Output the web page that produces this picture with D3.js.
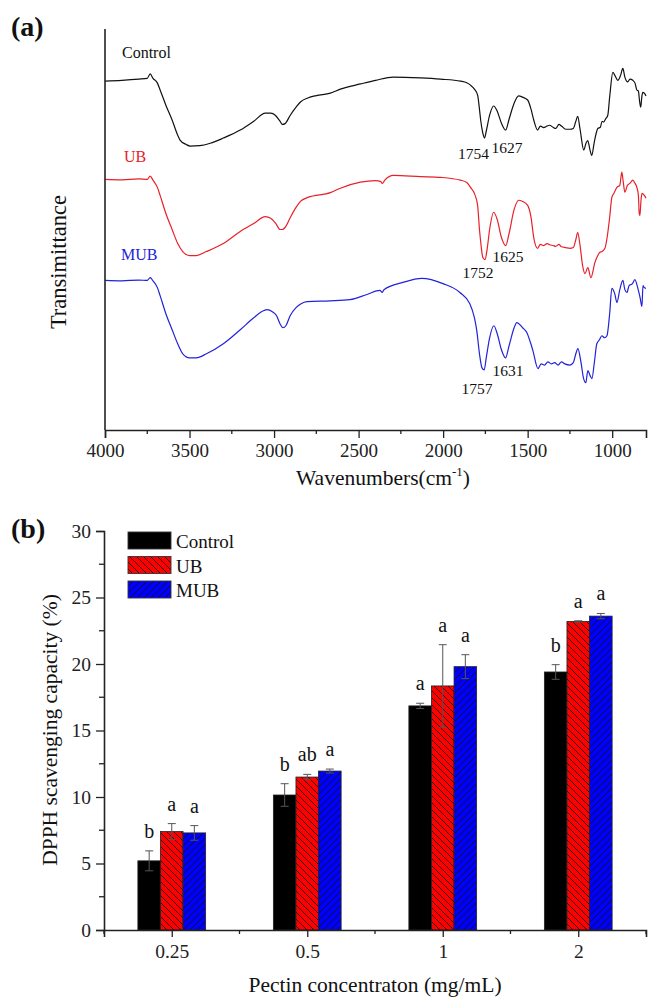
<!DOCTYPE html>
<html><head><meta charset="utf-8">
<script src="https://cdn.jsdelivr.net/npm/d3@7"></script>
<style>
html,body{margin:0;padding:0;background:#fff;}
svg{display:block;font-family:"Liberation Serif","Times New Roman",serif;}
</style></head>
<body>
<svg id="chart" width="648" height="998"></svg>
<script>
// ---------- Panel (a): FTIR spectra [wavenumber, transmittance a.u.] ----------
const controlSpectrum = [[4000,87],[3900,87.2],[3800,87.5],[3750,87.7],[3733,88.8],[3716,87.7],[3690,86.5],[3674,84.8],[3640,81],[3603,77.3],[3570,73.5],[3556,72.3],[3520,71.2],[3496,70.8],[3440,70.9],[3378,71.5],[3300,72.8],[3200,74.8],[3120,77],[3052,79],[3020,79],[2993,78.5],[2965,77],[2951,76.2],[2935,76.4],[2904,78.5],[2870,80.5],[2844,81.8],[2800,82.8],[2750,83.4],[2667,84],[2608,85],[2489,86.3],[2400,87.2],[2294,88],[2134,87.8],[2015,87.5],[1897,87],[1860,86.6],[1838,86],[1815,85],[1796,83.5],[1785,80],[1778,77.3],[1765,74],[1755,72.8],[1745,74.5],[1725,78.5],[1701,80.8],[1680,79.5],[1655,76.5],[1630,74.8],[1610,77.5],[1580,81.5],[1553,83.3],[1530,83],[1500,82.3],[1480,80],[1464,77.3],[1441,74.8],[1425,75.8],[1405,75.4],[1385,75.8],[1370,76],[1350,75.5],[1334,75.2],[1315,76.2],[1300,75.8],[1275,75],[1250,75],[1230,75.2],[1215,77],[1204,78.2],[1190,75],[1168,69.8],[1155,71.5],[1145,72.2],[1132,70],[1121,68.5],[1105,72],[1085,75.2],[1070,75.5],[1060,77],[1050,76.8],[1040,77.5],[1026,78.5],[1015,83],[996,89.2],[985,88.5],[967,87.2],[950,88.5],[937,90.2],[925,88],[908,86.8],[895,87.5],[878,87.2],[865,86.5],[854,84.8],[845,84.5],[838,82],[831,80.5],[825,83],[819,84.2],[810,84],[800,83.3]];
const ubSpectrum = [[4000,62.5],[3900,62.4],[3800,62.6],[3750,62.5],[3733,63.3],[3716,62.3],[3690,60.5],[3674,58.5],[3640,54],[3603,50],[3570,46.5],[3540,44.5],[3500,43.5],[3460,43.5],[3400,44.5],[3300,46.5],[3200,49.5],[3120,51.5],[3052,53.2],[3020,52.8],[2990,51.5],[2965,50],[2951,50],[2935,50.5],[2904,53],[2870,55.5],[2844,57],[2800,58],[2667,59.2],[2608,60.3],[2489,61.8],[2400,62.2],[2370,62],[2360,61.5],[2345,62.3],[2294,63.5],[2134,63.2],[2015,63],[1897,62.3],[1860,61.7],[1838,60.5],[1815,59],[1796,56],[1785,50],[1778,47],[1765,43],[1752,42.5],[1740,45],[1725,50],[1701,54.3],[1680,52.5],[1655,48],[1630,46],[1610,49],[1580,55],[1553,57.3],[1530,57],[1500,56],[1480,53],[1464,48],[1441,45.3],[1425,46.3],[1405,46],[1385,46.5],[1370,46.2],[1350,46],[1334,45.8],[1315,46.3],[1300,45.7],[1275,45.5],[1250,45.3],[1230,45.5],[1215,47.5],[1204,49.2],[1190,46],[1175,41],[1161,39],[1144,40.5],[1126,38],[1102,41.8],[1085,43.5],[1073,44.3],[1060,44.5],[1043,45.3],[1030,48],[1015,53],[1002,58],[990,59],[972,60.5],[955,61],[943,64.3],[935,62],[925,59.3],[910,61],[895,61.5],[878,62.3],[865,61.5],[854,60.5],[845,58.5],[840,54],[836,53.5],[830,57],[824,59],[810,58.5],[800,57.8]];
const mubSpectrum = [[4000,37.3],[3900,37.2],[3800,37.4],[3750,37.3],[3733,38],[3716,37.2],[3690,35.5],[3674,33.5],[3640,29],[3603,25],[3570,21.5],[3540,19],[3500,18],[3460,18],[3400,19],[3300,21.5],[3200,25],[3120,28],[3060,29.8],[3042,30],[3010,29.5],[2985,28.5],[2965,26.5],[2947,25.5],[2930,26],[2905,28.5],[2870,30.5],[2840,31.5],[2805,32],[2669,32.2],[2551,32.5],[2450,33.8],[2374,34.8],[2360,34.3],[2350,35],[2238,36.8],[2125,37.8],[2001,36.5],[1901,34.3],[1842,31.5],[1815,28],[1801,24.8],[1785,19],[1770,15.5],[1757,15],[1745,18],[1725,23],[1700,26],[1680,24],[1655,20],[1631,18],[1610,21],[1580,25.5],[1564,26.8],[1530,25.5],[1505,24.3],[1485,22],[1469,19.8],[1439,15.3],[1420,16.5],[1400,16.2],[1380,17],[1360,16.5],[1340,16.8],[1320,16.2],[1300,17],[1280,16.5],[1250,16.2],[1230,16.8],[1215,19],[1203,20.3],[1185,17],[1170,13],[1156,11.8],[1144,14.8],[1130,13.5],[1120,12.8],[1105,17],[1091,21.5],[1075,22.5],[1061,23.5],[1045,23],[1031,23.5],[1015,29],[1002,35.3],[985,34],[972,31.8],[955,35],[937,37.3],[925,35],[913,34.3],[900,36],[880,36.5],[866,37.5],[848,35.3],[835,33],[824,30.8],[818,36],[810,35.5],[800,35.3]];
const spectrumNames = ["Control","UB","MUB"];
// peak annotations: [text, wavenumber anchor, transmittance anchor]
const peakLabels = [["1754",1820,67.5],["1627",1622,69],["1752",1794,37.8],["1625",1617,41.8],["1757",1800,9],["1631",1617,13.5]];
const wnTicks = [4000,3500,3000,2500,2000,1500,1000];

// ---------- Panel (b): DPPH bars ----------
const concentrations = ["0.25","0.5","1","2"];
const barSeries = ["Control","UB","MUB"];
const controlValues = [5.2, 10.15, 16.85, 19.4];
const ubValues      = [7.4, 11.5, 18.35, 23.2];
const mubValues     = [7.3, 11.95, 19.8, 23.6];
const controlErr = [0.75, 0.85, 0.2, 0.55];
const ubErr      = [0.6, 0.2, 3.1, 0.05];
const mubErr     = [0.55, 0.15, 0.9, 0.2];
const controlSig = ["b","b","a","b"];
const ubSig      = ["a","ab","a","a"];
const mubSig     = ["a","a","a","a"];
const yTicksB = [0,5,10,15,20,25,30];

const svg = d3.select("#chart");
const font = '"Liberation Serif","Times New Roman",serif';
const axisCol = "#222";
const lineColors = ["#111111","#e8202a","#2222d8"];

// ===== Panel (a) =====
const xA = d3.scaleLinear().domain([4000,800]).range([105,646]);
const yA = d3.scaleLinear().domain([0,100]).range([430,29]);
const gA = svg.append("g");
const line = d3.line().x(d=>xA(d[0])).y(d=>yA(d[1])).curve(d3.curveMonotoneX);
[controlSpectrum, ubSpectrum, mubSpectrum].forEach((s,i)=>{
  gA.append("path").attr("d", line(s)).attr("fill","none")
    .attr("stroke", lineColors[i]).attr("stroke-width",1.2);
});
gA.append("line").attr("x1",105).attr("x2",105).attr("y1",yA(100)).attr("y2",yA(0))
  .attr("stroke",axisCol).attr("stroke-width",1.6);
const xAxisA = d3.axisBottom(xA).tickValues(wnTicks).tickSize(8).tickFormat(d3.format("d"));
const gx = gA.append("g").attr("transform",`translate(0,${yA(0)})`).call(xAxisA);
gx.select(".domain").attr("stroke",axisCol).attr("stroke-width",1.6);
gx.selectAll(".tick line").attr("stroke",axisCol).attr("stroke-width",1.3);
gx.selectAll(".tick text").attr("font-family",font).attr("font-size",19).attr("fill","#222")
  .attr("y",27).attr("dy",0);
const minorA = d3.range(3750,800,-500);
gA.selectAll(".minA").data(minorA).join("line").attr("x1",d=>xA(d)).attr("x2",d=>xA(d))
  .attr("y1",yA(0)).attr("y2",yA(0)+4).attr("stroke",axisCol).attr("stroke-width",1.3);
const seriesLabelPos = [[122,58],[124,162],[121,260]];
spectrumNames.forEach((n,i)=>{
  gA.append("text").attr("x",seriesLabelPos[i][0]).attr("y",seriesLabelPos[i][1])
    .attr("font-family",font).attr("font-size",16).attr("fill",lineColors[i]).text(n);
});
peakLabels.forEach(p=>{
  gA.append("text").attr("x",xA(p[1])).attr("y",yA(p[2])).attr("text-anchor","middle")
    .attr("font-family",font).attr("font-size",15.5).attr("fill","#111").text(p[0]);
});
gA.append("text").attr("transform","translate(66,262) rotate(-90)").attr("text-anchor","middle")
  .attr("font-family",font).attr("font-size",22.5).attr("fill","#111").text("Transimittance");
const xt = gA.append("text").attr("x",383).attr("y",485).attr("text-anchor","middle")
  .attr("font-family",font).attr("font-size",21.5).attr("fill","#111");
xt.append("tspan").text("Wavenumbers(cm");
xt.append("tspan").attr("font-size",13).attr("dy",-9).text("-1");
xt.append("tspan").attr("dy",9).text(")");
svg.append("text").attr("x",11).attr("y",36).attr("font-family",font).attr("font-weight","bold")
  .attr("font-size",28).attr("fill","#111").text("(a)");

// ===== Panel (b) =====
const x0 = d3.scaleLinear().domain([0.5,4.5]).range([104,646]);
const yB = d3.scaleLinear().domain([0,30]).range([930,531]);
const groupW = (x0(2)-x0(1))*0.5;
const xInner = d3.scaleBand().domain(barSeries).range([-groupW/2, groupW/2]).padding(0);

const defs = svg.append("defs");
function hatch(id, color, dir){
  const p = defs.append("pattern").attr("id",id).attr("patternUnits","userSpaceOnUse")
    .attr("width",7).attr("height",7);
  p.append("rect").attr("width",7).attr("height",7).attr("fill",color);
  const d = dir==="back" ? "M0,0 L7,7 M-1,6 L1,8 M6,-1 L8,1" : "M0,7 L7,0 M-1,1 L1,-1 M6,8 L8,6";
  p.append("path").attr("d",d).attr("stroke","#111").attr("stroke-width",0.9);
}
hatch("hatchUB","#ff0000","back");
hatch("hatchMUB","#0000ff","fwd");
const fills = ["#000000","url(#hatchUB)","url(#hatchMUB)"];
const valueSets = [controlValues, ubValues, mubValues];
const errSets = [controlErr, ubErr, mubErr];
const sigSets = [controlSig, ubSig, mubSig];

const gB = svg.append("g");
concentrations.forEach((c,ci)=>{
  const cx = x0(ci+1);
  barSeries.forEach((s,si)=>{
    const v = valueSets[si][ci], e = errSets[si][ci];
    const bx = cx + xInner(s), bw = xInner.bandwidth();
    gB.append("rect").attr("x",bx).attr("y",yB(v)).attr("width",bw).attr("height",yB(0)-yB(v))
      .attr("fill",fills[si]).attr("stroke","#222").attr("stroke-width",0.8);
    const mx = bx + bw/2;
    const eg = gB.append("g").attr("stroke","#555").attr("stroke-width",1);
    eg.append("line").attr("x1",mx).attr("x2",mx).attr("y1",yB(v-e)).attr("y2",yB(v+e));
    eg.append("line").attr("x1",mx-4).attr("x2",mx+4).attr("y1",yB(v+e)).attr("y2",yB(v+e));
    eg.append("line").attr("x1",mx-4).attr("x2",mx+4).attr("y1",yB(v-e)).attr("y2",yB(v-e));
    gB.append("text").attr("x",mx).attr("y",yB(v+e)-13).attr("text-anchor","middle")
      .attr("font-family",font).attr("font-size",20).attr("fill","#111").text(sigSets[si][ci]);
  });
});
const yAxisB = d3.axisLeft(yB).tickValues(yTicksB).tickSize(8).tickFormat(d3.format("d"));
const gy = gB.append("g").attr("transform",`translate(104,0)`).call(yAxisB);
gy.select(".domain").attr("stroke",axisCol).attr("stroke-width",1.6);
gy.selectAll(".tick line").attr("stroke",axisCol).attr("stroke-width",1.3);
gy.selectAll(".tick text").attr("font-family",font).attr("font-size",19.5).attr("fill","#222").attr("x",-13);
gB.selectAll(".minB").data(d3.range(2.5,30,5)).join("line").attr("x1",104).attr("x2",99)
  .attr("y1",d=>yB(d)).attr("y2",d=>yB(d)).attr("stroke",axisCol).attr("stroke-width",1.3);
const xAxisB = d3.axisBottom(x0).tickValues([1,2,3,4]).tickSize(7).tickFormat((d,i)=>concentrations[i]);
const gxb = gB.append("g").attr("transform",`translate(0,930)`).call(xAxisB);
gxb.select(".domain").attr("stroke",axisCol).attr("stroke-width",1.6);
gxb.selectAll(".tick line").attr("stroke",axisCol).attr("stroke-width",1.3);
gxb.selectAll(".tick text").attr("font-family",font).attr("font-size",19.5).attr("fill","#222")
  .attr("y",28).attr("dy",0);
gB.selectAll(".minXB").data([0.5,1.5,2.5,3.5,4.5]).join("line").attr("x1",d=>x0(d)).attr("x2",d=>x0(d))
  .attr("y1",930).attr("y2",934).attr("stroke",axisCol).attr("stroke-width",1.3);
barSeries.forEach((s,i)=>{
  const ly = 532 + i*24.5;
  gB.append("rect").attr("x",128).attr("y",ly).attr("width",43).attr("height",17)
    .attr("fill",fills[i]).attr("stroke","#333").attr("stroke-width",0.9);
  gB.append("text").attr("x",176).attr("y",ly+16).attr("font-family",font).attr("font-size",19)
    .attr("fill","#111").text(s);
});
gB.append("text").attr("transform","translate(57,730) rotate(-90)").attr("text-anchor","middle")
  .attr("font-family",font).attr("font-size",21.5).attr("fill","#111").text("DPPH scavenging capacity (%)");
gB.append("text").attr("x",375).attr("y",992).attr("text-anchor","middle")
  .attr("font-family",font).attr("font-size",21.5).attr("fill","#111").text("Pectin concentraton (mg/mL)");
svg.append("text").attr("x",11).attr("y",538).attr("font-family",font).attr("font-weight","bold")
  .attr("font-size",28).attr("fill","#111").text("(b)");
</script>
</body></html>
